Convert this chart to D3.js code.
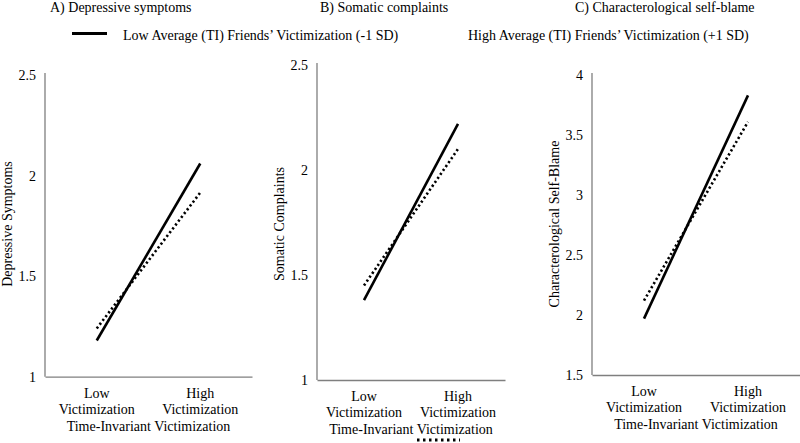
<!DOCTYPE html>
<html>
<head>
<meta charset="utf-8">
<script src="https://cdn.jsdelivr.net/npm/d3@7"></script>
<style>
  body { margin: 0; background: #fff; }
  text { font-family: "Liberation Serif", "Times New Roman", serif; fill: #000; }
</style>
</head>
<body>
<div id="chart"></div>
<script>
// data
var categories = ["Low", "High"];
var panelTitles = ["A)  Depressive symptoms", "B) Somatic complaints", "C) Characterological self-blame"];
var yTitles = ["Depressive Symptoms", "Somatic Complaints", "Characterological Self-Blame"];
var xTitle = "Time-Invariant Victimization";
var seriesNames = ["Low Average (TI) Friends\u2019 Victimization (-1 SD)", "High Average (TI) Friends\u2019 Victimization (+1 SD)"];

var depLow = [1.18, 2.06];
var depHigh = [1.24, 1.915];
var somLow = [1.38, 2.22];
var somHigh = [1.45, 2.10];
var blameLow = [1.97, 3.83];
var blameHigh = [2.12, 3.61];

var depTicks = [1, 1.5, 2, 2.5];
var somTicks = [1, 1.5, 2, 2.5];
var blameTicks = [1.5, 2, 2.5, 3, 3.5, 4];

var svgWidth = 800;
var svgHeight = 443;
var fontSize = "14px";

var svg = d3.select("#chart")
  .append("svg")
  .attr("width", svgWidth)
  .attr("height", svgHeight);

// panel boxes (plot area in pixels)
var panels = [
  {left: 45, right: 252, top: 75, bottom: 376.7, low: depLow, high: depHigh, ticks: depTicks, titleX: 50},
  {left: 317, right: 505, top: 65, bottom: 380, low: somLow, high: somHigh, ticks: somTicks, titleX: 320},
  {left: 592, right: 800, top: 75, bottom: 375, low: blameLow, high: blameHigh, ticks: blameTicks, titleX: 575}
];

panels.forEach(function(p, i) {
  var x = d3.scaleBand()
    .domain(categories)
    .range([p.left, p.right])
    .padding(0);

  var y = d3.scaleLinear()
    .domain([p.ticks[0], p.ticks[p.ticks.length - 1]])
    .range([p.bottom, p.top]);

  // panel title
  svg.append("text")
    .attr("x", p.titleX)
    .attr("y", 12)
    .attr("font-size", fontSize)
    .text(panelTitles[i]);

  // y axis
  var leftAxis = d3.axisLeft(y).tickValues(p.ticks).tickSize(0).tickPadding(9)
    .tickFormat(d3.format("~g"));
  var gy = svg.append("g")
    .attr("transform", "translate(" + p.left + ",0)")
    .call(leftAxis);
  gy.select(".domain").attr("stroke", "#7f7f7f").attr("stroke-width", 1.3)
    .attr("d", "M0," + (p.top - 2) + "V" + p.bottom);
  gy.selectAll(".tick text")
    .attr("font-size", fontSize)
    .attr("fill", "#000");

  // x axis line
  var bottomAxis = d3.axisBottom(x).tickSize(0).tickFormat("");
  var gx = svg.append("g")
    .attr("transform", "translate(0," + p.bottom + ")")
    .call(bottomAxis);
  gx.select(".domain").attr("stroke", "#7f7f7f").attr("stroke-width", 1.3);

  // category labels
  categories.forEach(function(c) {
    var cx = x(c) + x.bandwidth() / 2;
    svg.append("text")
      .attr("x", cx)
      .attr("y", p.bottom + 21)
      .attr("text-anchor", "middle")
      .attr("font-size", fontSize)
      .text(c);
    svg.append("text")
      .attr("x", cx)
      .attr("y", p.bottom + 37)
      .attr("text-anchor", "middle")
      .attr("font-size", fontSize)
      .text("Victimization");
  });

  // x title
  svg.append("text")
    .attr("x", (p.left + p.right) / 2)
    .attr("y", p.bottom + 54)
    .attr("text-anchor", "middle")
    .attr("font-size", fontSize)
    .text(xTitle);

  // y title
  svg.append("text")
    .attr("transform", "translate(" + (p.left - 38) + ",224) rotate(-90)")
    .attr("dy", "0.35em")
    .attr("text-anchor", "middle")
    .attr("font-size", fontSize)
    .text(yTitles[i]);

  var line = d3.line()
    .x(function(d, j) { return x(categories[j]) + x.bandwidth() / 2; })
    .y(function(d) { return y(d); });

  svg.append("path")
    .datum(p.high)
    .attr("d", line)
    .attr("fill", "none")
    .attr("stroke", "#000")
    .attr("stroke-width", 2.6)
    .attr("stroke-dasharray", "2.2,2.6");

  svg.append("path")
    .datum(p.low)
    .attr("d", line)
    .attr("fill", "none")
    .attr("stroke", "#000")
    .attr("stroke-width", 2.6);
});

// legend
svg.append("line")
  .attr("x1", 72).attr("x2", 107)
  .attr("y1", 33.5).attr("y2", 33.5)
  .attr("stroke", "#000")
  .attr("stroke-width", 3);
svg.append("text")
  .attr("x", 123)
  .attr("y", 40)
  .attr("font-size", fontSize)
  .text(seriesNames[0]);

svg.append("line")
  .attr("x1", 417).attr("x2", 460)
  .attr("y1", 440).attr("y2", 440)
  .attr("stroke", "#000")
  .attr("stroke-width", 3)
  .attr("stroke-dasharray", "2.5,3.5");
svg.append("text")
  .attr("x", 468)
  .attr("y", 40)
  .attr("font-size", fontSize)
  .text(seriesNames[1]);
</script>
</body>
</html>
